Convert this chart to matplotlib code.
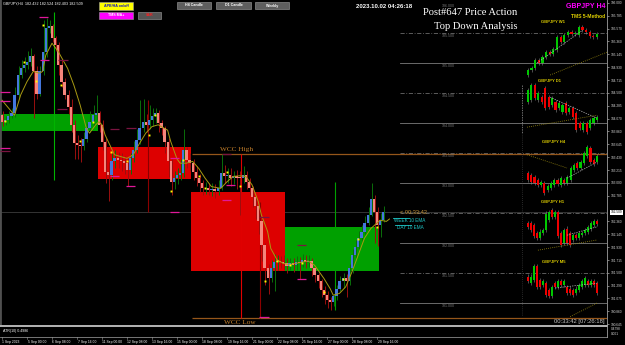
import numpy as np
import matplotlib.pyplot as plt
from matplotlib.patches import Rectangle
from matplotlib.lines import Line2D
from matplotlib.transforms import blended_transform_factory

plt.rcParams['font.family'] = ['Liberation Sans', 'DejaVu Sans']

W, H = 625, 345

# ---- main GBPJPY H4 chart (Heikin-Ashi bodies) ----
first_open = 184.13
closes = [
    184.02, 184.05, 184.11, 184.16, 184.47, 184.80, 184.91, 184.97, 185.02, 185.11,
    184.86, 184.49, 184.86, 185.19, 185.58, 185.61, 185.41, 185.30, 184.97, 184.69,
    184.47, 184.27, 183.97, 183.66, 183.63, 183.61, 183.74, 183.91, 184.02, 184.13,
    184.16, 183.97, 183.69, 183.19, 183.13, 183.36, 183.41, 183.38, 183.36, 183.33,
    183.22, 183.41, 183.55, 183.72, 183.91, 184.02, 183.97, 184.05, 184.11, 184.16,
    184.00, 183.91, 183.69, 183.36, 183.02, 183.08, 183.13, 183.16, 183.55, 183.38,
    183.33, 183.19, 183.08, 183.00, 182.91, 182.92, 182.88, 182.90, 182.87, 182.91,
    183.16, 183.11, 183.14, 183.09, 183.11, 183.09, 183.08, 183.14, 183.02, 182.91,
    182.77, 182.61, 182.36, 181.97, 181.58, 181.41, 181.58, 181.69, 181.70, 181.68,
    181.66, 181.61, 181.66, 181.63, 181.68, 181.66, 181.72, 181.69, 181.70, 181.58,
    181.47, 181.36, 181.22, 181.13, 181.05, 181.01, 181.11, 181.24, 181.36, 181.41,
    181.36, 181.58, 181.80, 181.94, 182.08, 182.19, 182.33, 182.47, 182.74, 182.52,
    182.30, 182.38, 182.51]
highs = [
    184.20, 184.12, 184.20, 184.25, 184.60, 184.95, 185.05, 185.10, 185.20, 185.25,
    185.15, 184.95, 184.95, 185.72, 185.75, 185.72, 185.65, 185.45, 185.35, 185.05,
    184.75, 184.55, 184.40, 184.05, 183.80, 183.75, 183.85, 184.00, 184.20, 184.30,
    184.47, 184.20, 184.05, 183.75, 183.35, 183.50, 183.55, 183.52, 183.50, 183.45,
    183.42, 183.50, 183.70, 183.90, 184.38, 184.40, 184.15, 184.30, 184.25, 184.25,
    184.22, 184.05, 183.95, 183.75, 183.40, 183.20, 183.25, 183.40, 183.90, 183.60,
    183.50, 183.40, 183.28, 183.15, 183.05, 183.02, 183.00, 183.00, 182.98, 183.05,
    183.48, 183.30, 183.25, 183.25, 183.20, 183.22, 183.20, 183.28, 183.20, 183.08,
    182.95, 182.80, 182.65, 182.40, 182.00, 181.65, 181.72, 181.82, 181.80, 181.78,
    181.80, 181.75, 181.75, 181.75, 181.78, 181.76, 181.82, 181.80, 181.80, 181.75,
    181.62, 181.50, 181.40, 181.28, 181.20, 181.10, 181.15, 181.30, 181.45, 181.50,
    181.48, 181.65, 181.90, 182.05, 182.20, 182.30, 182.45, 182.60, 183.00, 182.80,
    182.60, 182.50, 182.62]
lows = [
    183.95, 183.97, 184.00, 184.08, 184.10, 184.42, 184.75, 184.85, 184.90, 184.95,
    184.08, 184.40, 184.45, 184.80, 185.10, 185.50, 185.35, 185.20, 184.80, 184.60,
    184.40, 184.15, 183.85, 183.40, 183.40, 183.35, 183.55, 183.68, 183.85, 183.95,
    184.05, 183.85, 183.55, 183.00, 182.70, 183.05, 183.25, 183.25, 183.20, 183.15,
    182.95, 183.15, 183.35, 183.50, 183.65, 183.85, 183.85, 183.90, 183.95, 184.00,
    183.85, 183.80, 183.50, 183.10, 182.80, 182.90, 182.98, 183.05, 183.10, 183.25,
    183.20, 183.05, 182.95, 182.85, 182.80, 182.82, 182.80, 182.78, 182.75, 182.80,
    182.88, 183.00, 183.00, 182.95, 182.98, 182.90, 182.47, 183.00, 182.90, 182.80,
    182.60, 182.40, 182.15, 181.70, 181.30, 181.15, 181.35, 181.20, 181.55, 181.58,
    181.55, 181.50, 181.55, 181.52, 181.55, 181.40, 181.60, 181.58, 181.60, 181.45,
    181.35, 181.25, 181.10, 180.98, 180.92, 180.88, 180.95, 181.05, 181.20, 181.25,
    181.10, 181.30, 181.50, 181.75, 181.90, 182.05, 182.15, 182.30, 182.45, 182.00,
    181.95, 182.10, 182.35]

# weekly candle bodies drawn behind the H4 bars
week_start = [0, 31, 61, 91]
week_end = [31, 61, 91, 121]
week_open = [183.87, 183.60, 182.85, 181.53]
week_close = [184.15, 183.07, 181.53, 182.27]

wcc_high = 183.48
wcc_low = 180.75
wcc_from_bar = 60.8
current_price = 182.509

ma_bars = [0, 4, 6, 8, 10, 12, 13, 14, 16, 18, 21, 23, 25, 27, 28, 30, 31, 32, 33, 35,
           36, 38, 40, 42, 44, 46, 48, 50, 53, 54, 56, 57, 59, 61, 63, 65, 67, 70, 72, 74,
           76, 78, 80, 82, 83, 85, 86, 88, 90, 92, 94, 96, 98, 100, 103, 105, 106, 108, 110, 112,
           114, 116, 118, 121, 123, 124]
ma_vals = [184.38, 184.13, 184.47, 184.69, 184.86, 184.83, 184.86, 185.13, 185.33, 185.19,
           184.91, 184.63, 184.30, 183.91, 183.83, 183.97, 184.02, 183.97, 183.80, 183.58,
           183.47, 183.44, 183.41, 183.47, 183.66, 183.83, 183.94, 183.97, 183.88, 183.69,
           183.40, 183.33, 183.33, 183.36, 183.24, 183.08, 182.94, 182.91, 183.02, 183.11,
           183.12, 183.11, 182.97, 182.69, 182.47, 182.19, 181.91, 181.72, 181.66, 181.64,
           181.66, 181.68, 181.70, 181.63, 181.41, 181.24, 181.13, 181.16, 181.27, 181.52,
           181.80, 182.08, 182.24, 182.38, 182.36, 182.40]

dot_bars = [1, 7, 11, 13, 19, 25, 29, 35, 40, 47, 49, 54, 58, 63, 65, 72, 76, 84, 88, 92,
            96, 103, 109, 114, 120]
dot_vals = [184.03, 185.01, 184.70, 185.63, 184.63, 183.70, 184.02, 183.52, 183.36, 183.80,
            184.13, 182.87, 183.39, 183.12, 182.92, 183.18, 182.95, 181.37, 181.70, 181.64,
            181.66, 181.19, 181.40, 182.07, 182.27]

sr_bars = [11.8, 12, 18, 17.7, -0.6, -0.6, -0.6, -0.6, 34.5, 39.8, 34.5, 39.6, 53.6, 53.6,
           70.4, 70.4, 71.7, 82.3, 82.3, 94.3, 94.3]
sr_vals = [185.77, 185.05, 185.05, 184.24, 184.51, 184.37, 183.59, 183.54, 183.90, 183.92,
           183.12, 182.95, 183.41, 182.51, 183.48, 182.71, 182.97, 182.43, 180.76, 181.96, 181.40]
sr_bright = [1, 1, 0, 0, 1, 1, 1, 0, 0, 0, 1, 1, 1, 1, 0, 1, 1, 0, 1, 0, 1]

spike_bars = [16.6, 46.7, 76.5, 82.6, 106.6]
spike_top = [185.85, 184.38, 183.48, 182.69, 183.02]
spike_bottom = [183.05, 182.52, 180.75, 180.75, 180.88]
spike_colors = ['#00b400', '#8b0000', '#e00000', '#8b0000', '#00a000']

grid_solid = [185.0, 184.0, 183.0, 182.0, 181.0]
grid_dash = [185.5, 184.5, 183.5, 182.5, 181.5]
grid_labels = [186.0, 185.5, 185.0, 184.5, 184.0, 183.5, 183.0, 182.5, 182.0, 181.5, 181.0]

axis_ticks = [186.000, 185.785, 185.570, 185.360, 185.145, 184.930, 184.715, 184.500,
              184.285, 184.070, 183.860, 183.645, 183.430, 183.215, 183.000, 182.785,
              182.360, 182.145, 181.930, 181.715, 181.500, 181.290, 181.075, 180.860, 180.645]

time_labels = ['1 Sep 2023', '5 Sep 00:00', '6 Sep 08:00', '7 Sep 16:00', '11 Sep 00:00',
               '12 Sep 08:00', '13 Sep 16:00', '15 Sep 00:00', '18 Sep 08:00', '19 Sep 16:00',
               '21 Sep 00:00', '22 Sep 08:00', '25 Sep 16:00', '27 Sep 00:00', '28 Sep 08:00',
               '29 Sep 16:00']
time_label_bars = list(range(0, 121, 8))

# ---- multi timeframe mini charts on the right ----
w1_open = [184.80, 184.88, 184.92, 185.05, 185.00, 185.10, 185.18, 185.15, 185.22, 185.43,
           185.35, 185.47, 185.52, 185.48, 185.47, 185.60, 185.55, 185.52, 185.45, 185.43]
w1_close = [184.88, 184.92, 185.05, 185.00, 185.10, 185.18, 185.15, 185.23, 185.43, 185.35,
            185.47, 185.52, 185.48, 185.50, 185.60, 185.55, 185.52, 185.45, 185.43, 185.48]
d1_open = [184.35, 184.38, 184.63, 184.38, 184.43, 184.58, 184.43, 184.30, 184.35, 184.25,
           184.18, 184.33, 184.18, 184.25, 184.17, 184.00, 183.88, 184.00, 183.92, 184.00, 184.05]
d1_close = [184.55, 184.63, 184.42, 184.50, 184.35, 184.25, 184.27, 184.42, 184.22, 184.33,
            184.30, 184.17, 184.25, 184.10, 183.88, 183.92, 184.00, 183.85, 184.05, 184.08, 184.10]
h4_open = [183.17, 183.13, 183.10, 183.05, 182.97, 183.00, 182.88, 182.92, 182.97, 183.05,
           182.97, 183.05, 183.00, 183.05, 183.22, 183.33, 183.25, 183.33, 183.45, 183.58,
           183.38, 183.35]
h4_close = [183.05, 183.02, 183.00, 182.97, 183.02, 182.83, 182.95, 183.00, 183.05, 182.98,
            183.08, 183.00, 183.10, 183.25, 183.30, 183.25, 183.35, 183.50, 183.60, 183.35,
            183.32, 183.45]
h1_open = [182.33, 182.33, 182.30, 182.16, 182.08, 182.16, 182.22, 182.38, 182.55, 182.44,
           182.52, 182.16, 182.00, 182.24, 182.16, 182.05, 182.13, 182.08, 182.13, 182.16,
           182.19, 182.24, 182.30, 182.36]
h1_close = [182.27, 182.22, 182.11, 182.08, 182.19, 182.22, 182.49, 182.52, 182.44, 182.52,
            182.11, 181.97, 182.22, 182.00, 181.97, 182.13, 182.08, 182.16, 182.16, 182.22,
            182.27, 182.33, 182.36, 182.32]
m5_open = [181.44, 181.33, 181.38, 181.61, 181.38, 181.30, 181.33, 181.22, 181.11, 181.33,
           181.27, 181.36, 181.30, 181.27, 181.24, 181.22, 181.16, 181.22, 181.27, 181.30,
           181.36, 181.30, 181.36, 181.33]
m5_close = [181.36, 181.44, 181.61, 181.27, 181.27, 181.36, 181.13, 181.11, 181.27, 181.27,
            181.36, 181.30, 181.36, 181.16, 181.16, 181.13, 181.24, 181.30, 181.36, 181.41,
            181.30, 181.36, 181.30, 181.16]

trend_x = [[171.2, 185.9], [175.4, 190.4], [180.8, 190.4], [180.8, 190.4], [177.0, 190.4]]
trend_y = [[185.00, 185.55], [184.43, 184.08], [183.08, 183.35], [182.13, 182.27], [181.25, 181.33]]
slow_x = [[175.4, 193.6], [168.0, 190.4], [168.0, 180.8], [171.5, 190.4], [181.8, 190.4]]
slow_y = [[184.80, 185.18], [183.93, 184.13], [183.47, 183.25], [181.88, 182.05], [180.77, 181.00]]
mini_titles = ['GBPJPY W1', 'GBPJPY D1', 'GBPJPY H4', 'GBPJPY H1', 'GBPJPY M5']
mini_title_px = [(553, 22), (550, 81), (554, 142), (553, 202), (554, 262)]


def fx(x):
    return x / W


def fy(y):
    return 1 - y / H


def px_line(fig, x0, y0, x1, y1, **kw):
    fig.add_artist(Line2D([fx(x0), fx(x1)], [fy(y0), fy(y1)], transform=fig.transFigure, **kw))


def px_text(fig, x, y, s, **kw):
    fig.text(fx(x), fy(y), s, **kw)


def px_button(fig, x, y, w, h, label, face, text_color):
    fig.add_artist(Rectangle((fx(x), fy(y + h)), w / W, h / H, transform=fig.transFigure,
                             facecolor=face, edgecolor='#a0a0a0', lw=0.4))
    fig.text(fx(x + w / 2), fy(y + h / 2), label, ha='center', va='center',
             color=text_color, fontsize=2.6, fontweight='bold')


def draw_bodies(ax, x, opens, closes, width, up, down, zorder=3):
    o = np.asarray(opens)
    c = np.asarray(closes)
    colors = np.where(c >= o, up, down)
    ax.bar(x, np.maximum(np.abs(c - o), 0.012), bottom=np.minimum(o, c), width=width,
           color=colors, linewidth=0, zorder=zorder)


def draw_mini(ax, opens, closes):
    x = np.linspace(168.3, 190.4, len(opens))
    o = np.asarray(opens)
    c = np.asarray(closes)
    ax.vlines(x, np.minimum(o, c) - 0.035, np.maximum(o, c) + 0.035,
              colors='#8a8a8a', lw=0.4, zorder=2)
    draw_bodies(ax, x, o, c, 0.7, '#00c800', '#ee0000')


def main():
    fig = plt.figure(figsize=(W / 100, H / 100), dpi=100, facecolor='black')
    ax = fig.add_axes([0, 20 / H, 607 / W, 325 / H])
    ax.set_facecolor('black')
    ax.set_xlim(-0.64, 193.6)
    ax.set_ylim(180.633, 186.05)
    blend = blended_transform_factory(ax.transAxes, ax.transData)

    ax.axhline(current_price, color='#3c3c3c', lw=0.6, zorder=0.5)

    for s, e, o, c in zip(week_start, week_end, week_open, week_close):
        ax.add_patch(Rectangle((s - 0.4, min(o, c)), e - s, abs(c - o), lw=0, zorder=1,
                               facecolor='#00a000' if c > o else '#dd0000'))

    # price grid on the right part
    gx = 400 / 607
    for lvl in grid_solid:
        ax.axhline(lvl, xmin=gx, xmax=1, color='#7c7c7c', lw=0.6, zorder=1)
    for lvl in grid_dash:
        ax.axhline(lvl, xmin=gx, xmax=1, color='#6a6a6a', lw=0.6, dashes=(5, 2, 1, 2), zorder=1)
    for lvl in grid_labels:
        ax.text(442 / 607, lvl - 0.012, f'{lvl:.3f}', transform=blend, ha='left', va='top',
                fontsize=2.6, color='#747474')

    ax.hlines([wcc_high, wcc_low], wcc_from_bar, 193.6, colors='#95561a', lw=0.9, zorder=2)
    ax.text(75, wcc_high + 0.03, 'WCC High', ha='center', va='bottom', color='#c8822c',
            fontsize=5.2, family=['Liberation Serif', 'DejaVu Serif'])
    ax.text(76, wcc_low - 0.03, 'WCC Low', ha='center', va='top', color='#c8822c',
            fontsize=5.2, family=['Liberation Serif', 'DejaVu Serif'])

    # H4 candles
    c = np.asarray(closes)
    o = np.concatenate([[first_open], c[:-1]])
    x = np.arange(len(c))
    wick_colors = np.where(c >= o, '#0a6e0a', '#9a0f0f')
    ax.vlines(x + 0.3, lows, highs, colors=wick_colors, lw=0.7, zorder=2)
    ax.vlines(spike_bars, spike_bottom, spike_top, colors=spike_colors, lw=0.8, zorder=2.5)
    draw_bodies(ax, x, o, c, 0.72, '#4477dd', '#f4857c')

    ax.plot(ma_bars, ma_vals, color='#a89a12', lw=0.7, zorder=4)
    ax.plot(dot_bars, dot_vals, 's', ms=1.4, color='#ffff00', mew=0, zorder=5)
    for b, v, bright in zip(sr_bars, sr_vals, sr_bright):
        ax.hlines(v, b, b + 3, colors='#e0189a' if bright else '#7a1440', lw=0.9, zorder=4)

    # mini charts
    for opens_, closes_ in [(w1_open, w1_close), (d1_open, d1_close), (h4_open, h4_close),
                            (h1_open, h1_close), (m5_open, m5_close)]:
        draw_mini(ax, opens_, closes_)
    for tx, ty in zip(trend_x, trend_y):
        ax.plot(tx, ty, color='#b4b4b4', lw=0.5, dashes=(2, 1.5), zorder=4)
    for sx, sy in zip(slow_x, slow_y):
        ax.plot(sx, sy, color='#9a8a10', lw=0.6, dashes=(1, 1.5), zorder=4)
    for t, (tx, ty) in zip(mini_titles, mini_title_px):
        px_text(fig, tx, ty, t, ha='center', va='center', color='#d8c800', fontsize=3.0,
                fontweight='bold')
    px_line(fig, 522, 85, 522, 133, color='#9a9a9a', lw=0.5, dashes=(2, 1.5))
    px_line(fig, 522, 133, 522, 316, color='#505050', lw=0.5, dashes=(1, 2))

    # right price axis
    ax.set_xticks([])
    ax.yaxis.set_ticks_position('right')
    ax.set_yticks(axis_ticks)
    ax.set_yticklabels([f'{t:.3f}' for t in axis_ticks])
    ax.tick_params(axis='y', length=1.5, width=0.4, colors='#d8d8d8', labelsize=2.3, pad=1.2)
    for side in ['top', 'bottom']:
        ax.spines[side].set_visible(False)
    ax.spines['right'].set_color('#a0a0a0')
    ax.spines['right'].set_linewidth(0.6)
    ax.spines['left'].set_color('#505050')
    ax.spines['left'].set_linewidth(2)
    ax.text(1 + 4 / 607, current_price, f'{current_price:.3f}', transform=blend, ha='left',
            va='center', fontsize=2.3, color='black', clip_on=False,
            bbox=dict(boxstyle='square,pad=0.25', fc='white', ec='none'))

    # header texts and buttons
    px_text(fig, 3, 3.5, 'GBPJPY,H4  182.432 182.524 182.403 182.509', va='center',
            color='white', fontsize=2.7)
    px_button(fig, 99, 2, 34, 8, 'APB/HA on/off', '#ffff00', '#1010c0')
    px_button(fig, 99, 11.5, 34, 7, 'TMS MA+', '#ff00ff', 'white')
    px_button(fig, 138, 11.5, 23, 7, 'S&R', '#555555', '#ff2020')
    px_button(fig, 177, 2, 34, 7, 'H4 Candle', '#5e5e5e', 'white')
    px_button(fig, 216, 2, 35, 7, 'D1 Candle', '#5e5e5e', 'white')
    px_button(fig, 255, 2, 34, 7, 'Weekly', '#5e5e5e', 'white')
    px_text(fig, 384, 6, '2023.10.02 04:26:18', ha='center', va='center', color='white',
            fontsize=4.3, fontweight='bold')
    serif = ['Liberation Serif', 'DejaVu Serif']
    px_text(fig, 423, 12.5, 'Post#647 Price Action', va='center', color='white',
            fontsize=7.6, family=serif)
    px_text(fig, 434, 26.5, 'Top Down Analysis', va='center', color='white',
            fontsize=7.6, family=serif)
    px_text(fig, 605, 7, 'GBPJPY H4', ha='right', va='center', color='#ff00ff',
            fontsize=5, fontweight='bold')
    px_text(fig, 605, 16, 'TMS 5-Method', ha='right', va='center', color='#e0d000',
            fontsize=3.6, fontweight='bold')

    # countdown and EMA tags
    px_text(fig, 400, 213, '< 00:33:42', va='center', color='#c8963c', fontsize=4.1)
    px_line(fig, 393, 217.5, 409, 217.5, color='#1ec8c8', lw=0.6)
    px_text(fig, 394, 220.5, 'WEEK 10 EMA', va='center', color='#1ec8c8', fontsize=3.3)
    px_line(fig, 395, 224.5, 411, 224.5, color='#1ec8c8', lw=0.6)
    px_text(fig, 397, 227.5, 'DAY 10 EMA', va='center', color='#1ec8c8', fontsize=3.3)
    px_text(fig, 605, 322, '00:33:42 [07:26:18]', ha='right', va='center', color='#c8c8c8',
            fontsize=4.2)

    # indicator window and time axis
    px_line(fig, 0, 325.8, 607, 325.8, color='#b4b4b4', lw=1.4)
    px_line(fig, 0, 336.5, 607, 336.5, color='#8a8a8a', lw=0.6)
    px_line(fig, 607, 325, 607, 337, color='#a0a0a0', lw=0.6)
    px_text(fig, 3, 331, 'ATR(10) 0.4986', va='center', color='white', fontsize=2.6)
    px_text(fig, 611, 329, '0.4798', va='center', color='#d8d8d8', fontsize=2.3)
    px_text(fig, 611, 334, '0.001', va='center', color='#d8d8d8', fontsize=2.3)
    for b, lab in zip(time_label_bars, time_labels):
        xp = 2 + 3.125 * b
        px_line(fig, xp, 337, xp, 339, color='#a0a0a0', lw=0.4)
        px_text(fig, xp + 0.5, 341.5, lab, va='center', color='white', fontsize=2.4)

    fig.savefig('out.png', dpi=100, facecolor='black')
    plt.close(fig)


if __name__ == '__main__':
    main()
